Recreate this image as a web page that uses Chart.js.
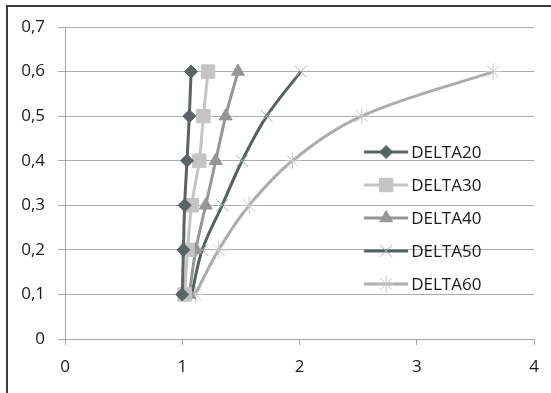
<!DOCTYPE html>
<html>
<head>
<meta charset="utf-8">
<script src="https://cdn.jsdelivr.net/npm/chart.js@4/dist/chart.umd.min.js"></script>
<style>
  html, body { margin: 0; padding: 0; background: #fff; overflow: hidden; }
  #wrap { position: relative; width: 551px; height: 393px; }
  #frame { position: absolute; left: 6px; top: 5px; width: 600px; height: 450px;
           border: 2px solid #3c3c3c; pointer-events: none; }
  canvas { position: absolute; left: 0; top: 0; }
</style>
</head>
<body>
<div id="wrap">
  <canvas id="c" width="551" height="393"></canvas>
  <div id="frame"></div>
</div>
<script>
// Y levels shared by every series
const yLevels = [0.1, 0.2, 0.3, 0.4, 0.5, 0.6];

// X values of each series at those levels
const delta20 = [1.00, 1.01, 1.02, 1.04, 1.06, 1.075];
const delta30 = [1.02, 1.045, 1.08, 1.145, 1.18, 1.22];
const delta40 = [1.06, 1.115, 1.20, 1.285, 1.37, 1.475];
const delta50 = [1.08, 1.17, 1.34, 1.51, 1.72, 2.01];
const delta60 = [1.11, 1.31, 1.57, 1.94, 2.53, 3.65];

const seriesNames = ['DELTA20', 'DELTA30', 'DELTA40', 'DELTA50', 'DELTA60'];
const seriesValues = [delta20, delta30, delta40, delta50, delta60];

const xTicks = [0, 1, 2, 3, 4];
const yTicks = [0, 0.1, 0.2, 0.3, 0.4, 0.5, 0.6, 0.7];

const styles = [
  { color: '#5b6364', point: 'rectRot', radius: 6.5, pointColor: '#5b6364' },
  { color: '#c4c4c4', point: 'rect', radius: 9.5, pointColor: '#c4c4c4' },
  { color: '#969696', point: 'triangle', radius: 7.5, pointColor: '#969696' },
  { color: '#566060', point: 'crossRot', radius: 8.5, pointColor: '#a9aeae' },
  { color: '#acacac', point: 'star', radius: 8.5, pointColor: '#c8c8c8' }
];

const FONT = '"Open Sans", "DejaVu Sans", sans-serif';

const datasets = seriesNames.map((name, i) => ({
  label: name,
  data: seriesValues[i].map((x, k) => ({ x: x, y: yLevels[k] })),
  showLine: true,
  borderColor: styles[i].color,
  backgroundColor: styles[i].pointColor,
  borderWidth: 3,
  tension: 0.35,
  pointStyle: styles[i].point,
  pointRadius: styles[i].radius,
  pointBackgroundColor: styles[i].pointColor,
  pointBorderColor: styles[i].pointColor,
  pointBorderWidth: 1
}));

// Legend drawn inside the plot area, on the right side
const innerLegend = {
  id: 'innerLegend',
  afterDatasetsDraw(chart) {
    const ctx = chart.ctx;
    const area = chart.chartArea;
    const x0 = area.right - 170;
    const lineLen = 44;
    const y0 = area.top + 125;
    const step = 33;
    ctx.save();
    ctx.font = '17px ' + FONT;
    ctx.textBaseline = 'middle';
    ctx.textAlign = 'left';
    chart.data.datasets.forEach((ds, i) => {
      const y = y0 + i * step;
      ctx.strokeStyle = ds.borderColor;
      ctx.lineWidth = 3;
      ctx.beginPath();
      ctx.moveTo(x0, y);
      ctx.lineTo(x0 + lineLen, y);
      ctx.stroke();
      ctx.fillStyle = ds.pointBackgroundColor;
      ctx.strokeStyle = ds.pointBorderColor;
      ctx.lineWidth = ds.pointBorderWidth;
      Chart.helpers.drawPoint(ctx, {
        pointStyle: ds.pointStyle,
        radius: ds.pointRadius,
        borderWidth: ds.pointBorderWidth,
        rotation: 0
      }, x0 + lineLen / 2, y);
      ctx.fillStyle = '#1a1a1a';
      ctx.fillText(ds.label, x0 + lineLen + 3, y + 1);
    });
    ctx.restore();
  }
};

new Chart(document.getElementById('c'), {
  type: 'scatter',
  data: { datasets: datasets },
  plugins: [innerLegend],
  options: {
    responsive: false,
    animation: false,
    layout: { padding: { top: 27, right: 14, left: 0, bottom: 0 } },
    plugins: { legend: { display: false }, tooltip: { enabled: false } },
    scales: {
      x: {
        type: 'linear',
        min: xTicks[0],
        max: xTicks[xTicks.length - 1],
        afterBuildTicks(scale) { scale.ticks = xTicks.map(v => ({ value: v })); },
        afterFit(scale) { scale.height = 54; },
        grid: { drawOnChartArea: false, drawTicks: true, tickLength: 6, color: '#a6a6a6' },
        border: { color: '#a6a6a6', width: 1 },
        ticks: {
          padding: 12,
          color: '#1a1a1a',
          font: { family: FONT, size: 17 },
          maxRotation: 0,
          callback: v => String(v)
        }
      },
      y: {
        type: 'linear',
        min: yTicks[0],
        max: yTicks[yTicks.length - 1],
        afterBuildTicks(scale) { scale.ticks = yTicks.map(v => ({ value: v })); },
        afterFit(scale) { scale.width = 65; },
        grid: { color: '#adadad', tickLength: 7, lineWidth: 1 },
        border: { color: '#a6a6a6', width: 1 },
        ticks: {
          padding: 13,
          color: '#1a1a1a',
          font: { family: FONT, size: 17 },
          callback: v => v === 0 ? '0' : v.toFixed(1).replace('.', ',')
        }
      }
    }
  }
});
</script>
</body>
</html>
